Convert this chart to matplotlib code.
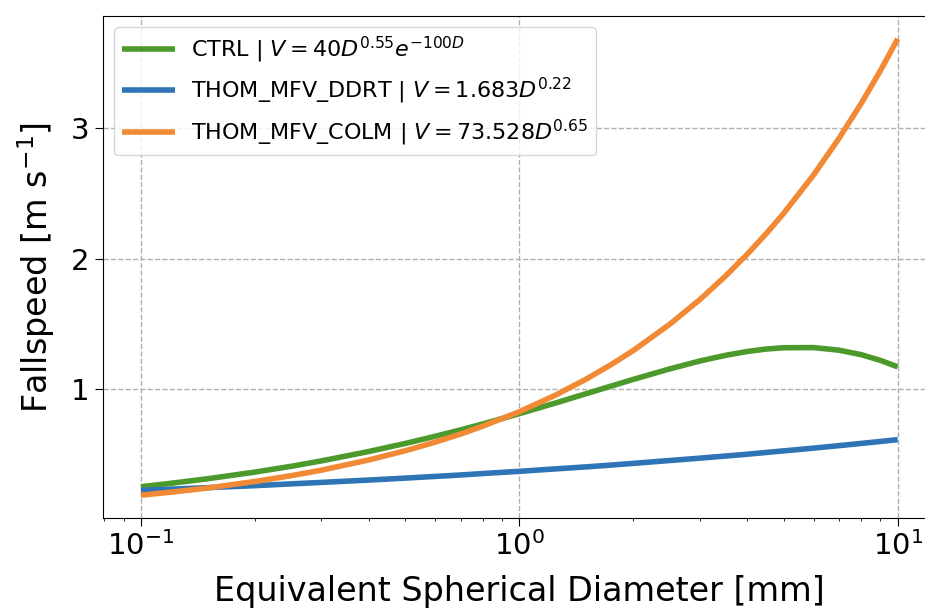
import matplotlib
matplotlib.use('Agg')
import matplotlib.pyplot as plt

# diameters [mm] and fallspeeds [m/s]
diam = [0.1, 0.12, 0.15, 0.2, 0.25, 0.3, 0.4, 0.5, 0.6, 0.7, 0.8, 1.0, 1.25, 1.5,
        1.75, 2.0, 2.5, 3.0, 3.5, 4.0, 4.5, 5.0, 6.0, 7.0, 8.0, 9.0, 10.0]
v_ctrl = [0.250, 0.276, 0.311, 0.362, 0.407, 0.448, 0.520, 0.582, 0.637, 0.686,
          0.731, 0.810, 0.893, 0.963, 1.022, 1.073, 1.154, 1.214, 1.257, 1.287,
          1.306, 1.316, 1.317, 1.297, 1.263, 1.219, 1.169]
v_ddrt = [0.222, 0.231, 0.243, 0.258, 0.272, 0.283, 0.301, 0.316, 0.329, 0.340,
          0.351, 0.368, 0.387, 0.402, 0.416, 0.429, 0.451, 0.469, 0.485, 0.499,
          0.513, 0.525, 0.546, 0.565, 0.582, 0.597, 0.611]
v_colm = [0.185, 0.208, 0.240, 0.290, 0.335, 0.377, 0.455, 0.526, 0.592, 0.654,
          0.714, 0.825, 0.954, 1.074, 1.187, 1.294, 1.497, 1.685, 1.863, 2.032,
          2.193, 2.348, 2.643, 2.923, 3.187, 3.441, 3.685]

labels = [r'CTRL | $V = 40D^{0.55}e^{-100D}$',
          r'THOM_MFV_DDRT | $V = 1.683D^{0.22}$',
          r'THOM_MFV_COLM | $V = 73.528D^{0.65}$']
colors = ['#4d9a2c', '#2f74b5', '#f28a35']

fig = plt.figure(figsize=(9.25, 6.11), dpi=100)
# the original is cut on the right, the axes run a bit past the canvas edge
ax = fig.add_axes([0.1114, 0.1522, 0.9, 0.8216])

for y, lab, c in zip([v_ctrl, v_ddrt, v_colm], labels, colors):
    ax.plot(diam, y, color=c, lw=4, label=lab, solid_joinstyle='round',
            solid_capstyle='butt')

ax.set_xscale('log')
ax.grid(True, ls='--', color='#b0b0b0', lw=1)
ax.tick_params(axis='both', labelsize=21)
ax.tick_params(axis='both', which='major', length=6)
ax.set_xlabel('Equivalent Spherical Diameter [mm]', fontsize=24, labelpad=10)
ax.set_ylabel(r'Fallspeed [m s$^{-1}$]', fontsize=24, labelpad=10)
ax.set_yticks([1, 2, 3])
ax.legend(loc='upper left', fontsize=16, handlelength=2.4, handletextpad=0.7,
          borderpad=0.35)

fig.savefig('out.png', dpi=100)
